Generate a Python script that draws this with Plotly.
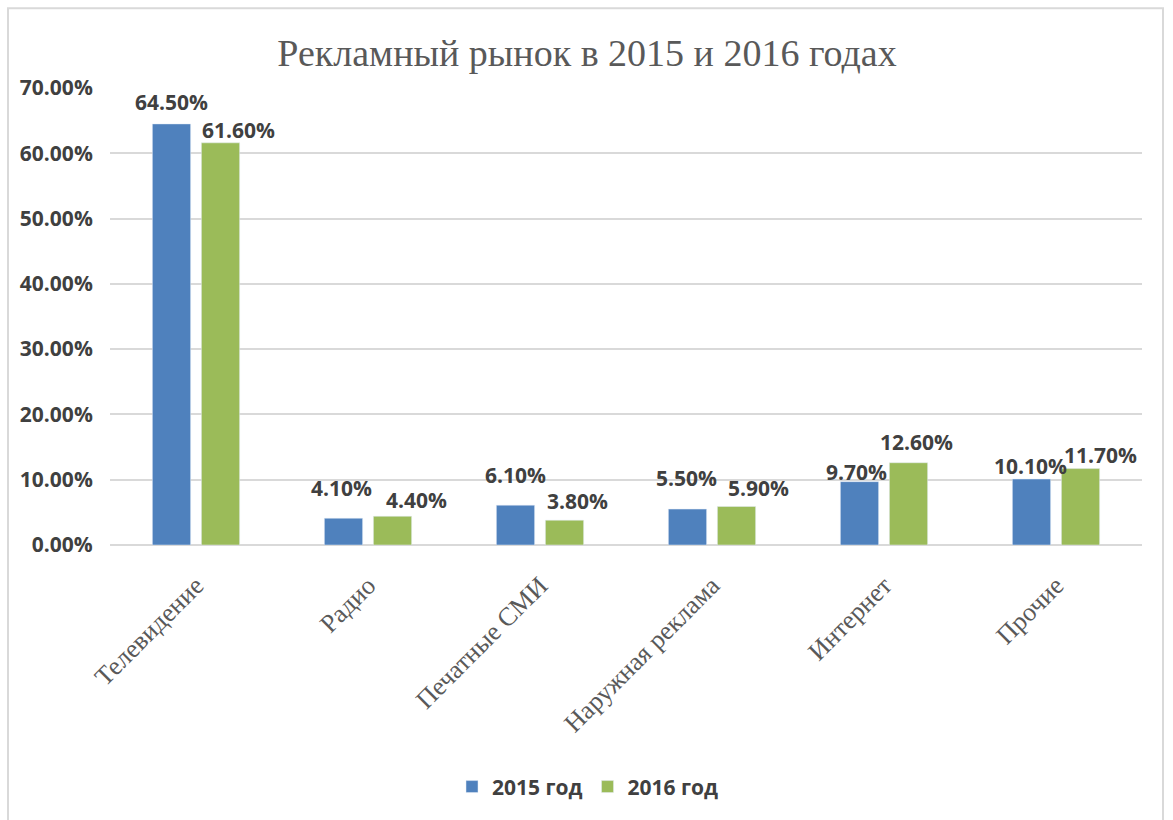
import plotly.graph_objects as go

categories = ["Телевидение", "Радио", "Печатные СМИ", "Наружная реклама", "Интернет", "Прочие"]
series_names = ["2015 год", "2016 год"]
values_2015 = [64.5, 4.1, 6.1, 5.5, 9.7, 10.1]
values_2016 = [61.6, 4.4, 3.8, 5.9, 12.6, 11.7]
y_ticks = [0, 10, 20, 30, 40, 50, 60, 70]

# style
W, H = 1173, 820
ML, MR, MT, MB = 110, 31, 88, 273
BARGAP, GROUPGAP = 0.43, 0.22
BLUE, GREEN = "#4F81BD", "#9BBB59"
LABEL_FONT = dict(family="Open Sans", size=21, color="#404040", weight="bold")

# label nudges (Excel-like placement)
blue_dx = [0, -2, 0, -1, -3, -1]
blue_dy = [6, 14, 14, 15, -6, -3]
green_dx = [18, 24, 13, 22, 8, 20]
green_dy = [-3, 0, 3, 2, 5, -2]

fig = go.Figure()
fig.add_trace(go.Bar(name=series_names[0], x=categories, y=values_2015, marker_color=BLUE))
fig.add_trace(go.Bar(name=series_names[1], x=categories, y=values_2016, marker_color=GREEN))

plot_w = W - ML - MR
slot = plot_w / len(categories) * (1 - BARGAP) / 2

annotations = []
for i, c in enumerate(categories):
    annotations.append(dict(x=c, y=values_2015[i], xref="x", yref="y", text=f"{values_2015[i]:.2f}%",
                            showarrow=False, yanchor="bottom", xanchor="center",
                            xshift=-slot / 2 + blue_dx[i], yshift=blue_dy[i], font=LABEL_FONT))
    annotations.append(dict(x=c, y=values_2016[i], xref="x", yref="y", text=f"{values_2016[i]:.2f}%",
                            showarrow=False, yanchor="bottom", xanchor="center",
                            xshift=slot / 2 + green_dx[i], yshift=green_dy[i], font=LABEL_FONT))

plot_h = H - MT - MB
def px_x(p):
    return (p - ML) / plot_w
def px_y(p):
    return (H - MB - p) / plot_h

fig.update_layout(
    width=W, height=H,
    margin=dict(l=ML, r=MR, t=MT, b=MB),
    paper_bgcolor="white", plot_bgcolor="white",
    barmode="group", bargap=BARGAP, bargroupgap=GROUPGAP,
    title=dict(text="Рекламный рынок в 2015 и 2016 годах", x=587 / W, xanchor="center",
               y=1 - 53 / H, yanchor="middle", xref="container",
               font=dict(family="Liberation Serif", size=38, color="#595959")),
    xaxis=dict(tickangle=-45, tickfont=dict(family="Liberation Serif", size=26, color="#595959"),
               showgrid=False, showline=False, ticks="outside", ticklen=14, tickcolor="rgba(0,0,0,0)"),
    yaxis=dict(range=[0, 70], tickvals=y_ticks, ticktext=[f"{v:.2f}%" for v in y_ticks],
               tickfont=LABEL_FONT, showgrid=True, gridcolor="#D9D9D9", gridwidth=1.5,
               zeroline=True, zerolinecolor="#D9D9D9", zerolinewidth=1.5,
               ticks="outside", ticklen=12, tickcolor="rgba(0,0,0,0)"),
    legend=dict(orientation="h", x=px_x(588), xanchor="center", y=px_y(790), yanchor="middle",
                font=LABEL_FONT, itemwidth=30, traceorder="normal"),
    annotations=annotations,
    shapes=[dict(type="rect", xref="paper", yref="paper",
                 x0=px_x(8), x1=px_x(1163), y0=px_y(830), y1=px_y(8),
                 line=dict(color="#D9D9D9", width=2), fillcolor="rgba(0,0,0,0)", layer="below")],
)

fig.write_html("out.html")
